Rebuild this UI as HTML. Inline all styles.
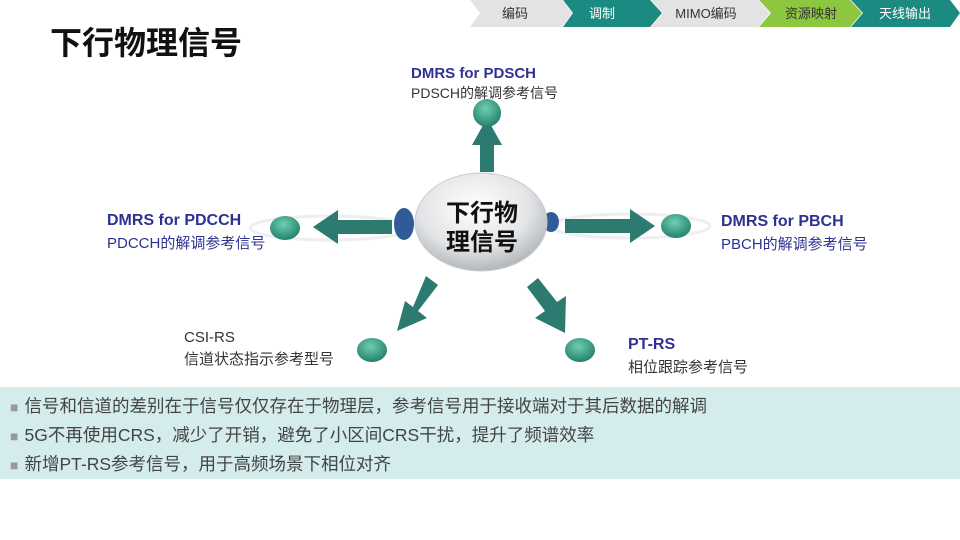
<!DOCTYPE html><html><head><meta charset="utf-8"><style>
body{margin:0;width:960px;height:540px;background:#fff;position:relative;overflow:hidden;font-family:"Liberation Sans","Noto Sans CJK SC",sans-serif}
.t{position:absolute;white-space:nowrap}
.b{font-weight:bold;color:#2e3192;font-size:16px}
.s{color:#333;font-size:15px}
.q{color:#999;font-size:14px;margin-right:6px}
</style></head><body>
<svg width="960" height="540" style="position:absolute;left:0;top:0">
<defs>
<radialGradient id="g" cx="45%" cy="35%" r="70%"><stop offset="0" stop-color="#fff"/><stop offset=".6" stop-color="#e2e4e6"/><stop offset="1" stop-color="#a9adb1"/></radialGradient>
<radialGradient id="n" cx="45%" cy="35%" r="70%"><stop offset="0" stop-color="#6fcfb0"/><stop offset="1" stop-color="#1d7a68"/></radialGradient>
</defs>
<polygon points="470,0 562,0 572,13 562,27 470,27 480,13" fill="#e3e3e3"/>
<polygon points="563,0 650,0 662,13 650,27 563,27 573,13" fill="#1b8a80"/>
<polygon points="651,0 758,0 770,13 758,27 651,27 663,13" fill="#e3e3e3"/>
<polygon points="759,0 850,0 862,13 850,27 759,27 771,13" fill="#8dc63f"/>
<polygon points="851,0 950,0 960,13 950,27 851,27 863,13" fill="#1b8a80"/>
<text x="515" y="18" font-size="13" text-anchor="middle" fill="#333">编码</text>
<text x="602" y="18" font-size="13" text-anchor="middle" fill="#fff">调制</text>
<text x="706" y="18" font-size="13" text-anchor="middle" fill="#333">MIMO编码</text>
<text x="811" y="18" font-size="13" text-anchor="middle" fill="#333">资源映射</text>
<text x="905" y="18" font-size="13" text-anchor="middle" fill="#fff">天线输出</text>
<ellipse cx="330" cy="228" rx="80" ry="12" fill="none" stroke="#eceef0" stroke-width="3"/>
<ellipse cx="630" cy="226" rx="80" ry="12" fill="none" stroke="#eceef0" stroke-width="3"/>
<g fill="#2c7a70">
<polygon points="480,172 480,145 472,145 487,118 502,145 494,145 494,172"/>
<polygon points="392,220 338,220 338,210 313,227 338,244 338,234 392,234"/>
<polygon points="565,219 630,219 630,209 655,226 630,243 630,233 565,233"/>
<polygon points="426,276 438,285 418,311 427,318 397,331 405,301 413,307"/>
<polygon points="527,287 538,278 557,302 566,296 565,333 535,318 545,311"/>
</g>
<ellipse cx="404" cy="224" rx="10" ry="16" fill="#2f5c96"/>
<ellipse cx="551" cy="222" rx="8" ry="10" fill="#2f5c96"/>
<ellipse cx="481" cy="222" rx="66" ry="49" fill="url(#g)" stroke="#c8ccd0"/>
<ellipse cx="487" cy="113" rx="14" ry="14" fill="url(#n)"/>
<ellipse cx="285" cy="228" rx="15" ry="12" fill="url(#n)"/>
<ellipse cx="676" cy="226" rx="15" ry="12" fill="url(#n)"/>
<ellipse cx="372" cy="350" rx="15" ry="12" fill="url(#n)"/>
<ellipse cx="580" cy="350" rx="15" ry="12" fill="url(#n)"/>
<text x="482" y="221" font-size="24" font-weight="bold" text-anchor="middle" fill="#111">下行物</text>
<text x="482" y="250" font-size="24" font-weight="bold" text-anchor="middle" fill="#111">理信号</text>
</svg>
<div class="t" style="left:50px;top:18px;font-size:32px;font-weight:bold;color:#111">下行物理信号</div>
<div class="t b" style="left:411px;top:65px;font-size:15px">DMRS for PDSCH</div>
<div class="t s" style="left:411px;top:83px;font-size:14px">PDSCH的解调参考信号</div>
<div class="t b" style="left:107px;top:212px">DMRS for PDCCH</div>
<div class="t s" style="left:107px;top:232px;color:#2e3192">PDCCH的解调参考信号</div>
<div class="t b" style="left:721px;top:213px">DMRS for PBCH</div>
<div class="t s" style="left:721px;top:233px;color:#2e3192">PBCH的解调参考信号</div>
<div class="t s" style="left:184px;top:329px">CSI-RS</div>
<div class="t s" style="left:184px;top:348px">信道状态指示参考型号</div>
<div class="t b" style="left:628px;top:336px">PT-RS</div>
<div class="t s" style="left:628px;top:356px">相位跟踪参考信号</div>
<div style="position:absolute;left:0;top:387px;width:960px;height:92px;background:#d4ecec"></div>
<div class="t" style="left:10px;top:392px;font-size:17.5px;color:#444;line-height:28px">
<span class="q">■</span>信号和信道的差别在于信号仅仅存在于物理层，参考信号用于接收端对于其后数据的解调<br>
<span class="q">■</span>5G不再使用CRS，减少了开销，避免了小区间CRS干扰，提升了频谱效率<br>
<span class="q">■</span>新增PT-RS参考信号，用于高频场景下相位对齐</div>
</body></html>
